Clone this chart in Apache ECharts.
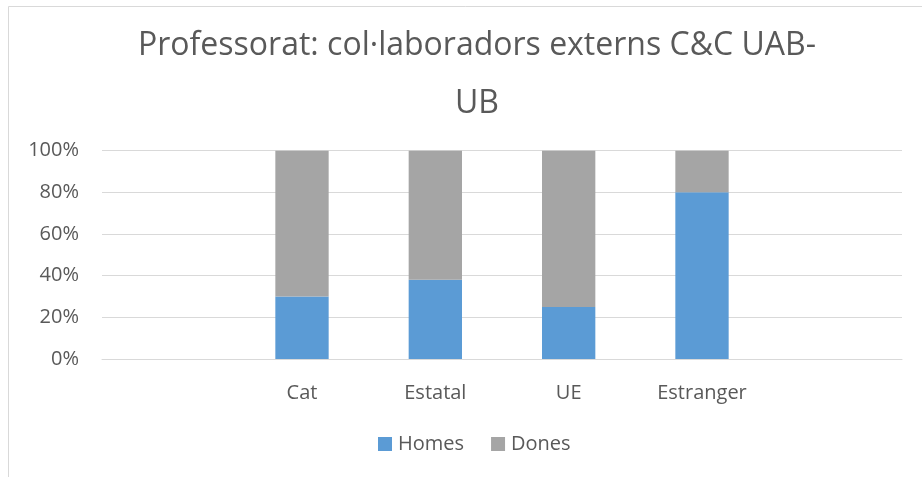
<!DOCTYPE html>
<html>
<head>
<meta charset="utf-8">
<script src="https://cdn.jsdelivr.net/npm/echarts@6/dist/echarts.min.js"></script>
<style>html,body{margin:0;padding:0;background:#fff;}#c{width:922px;height:477px;}</style>
</head>
<body>
<div id="c"></div>
<script>
const categories = ['', 'Cat', 'Estatal', 'UE', 'Estranger', ''];
const homes = [null, 30, 38, 25, 80, null];
const dones = [null, 70, 62, 75, 20, null];
const yTicks = [0, 20, 40, 60, 80, 100];

const FONT = 'Open Sans';
const TXT = '#595959';
const chart = echarts.init(document.getElementById('c'));
chart.setOption({
  animation: false,
  backgroundColor: '#fff',
  textStyle: { fontFamily: FONT },
  graphic: [{
    type: 'rect', silent: true,
    shape: { x: 8.5, y: 6.5, width: 940, height: 500 },
    style: { fill: 'none', stroke: '#D9D9D9', lineWidth: 1 }
  }],
  title: {
    text: 'Professorat: col·laboradors externs C&C UAB-\nUB',
    left: 472, top: 12, textAlign: 'center',
    textStyle: { fontFamily: FONT, fontSize: 32, fontWeight: 'normal', color: TXT, lineHeight: 58 }
  },
  legend: {
    data: ['Homes', 'Dones'],
    left: 373, top: 429,
    itemWidth: 14, itemHeight: 14, itemGap: 27,
    icon: 'rect',
    textStyle: { fontFamily: FONT, fontSize: 20, color: TXT, padding: [0, 0, 0, 1] }
  },
  grid: { left: 102, right: 20, top: 150.7, bottom: 118, containLabel: false },
  xAxis: {
    type: 'category', data: categories,
    axisTick: { show: false },
    axisLine: { lineStyle: { color: '#D9D9D9', width: 1 } },
    axisLabel: { fontFamily: FONT, fontSize: 20, color: TXT, margin: 24, interval: 0 }
  },
  yAxis: {
    type: 'value', min: yTicks[0], max: yTicks[yTicks.length - 1], interval: 20,
    axisLine: { show: false }, axisTick: { show: false },
    splitLine: { lineStyle: { color: '#D9D9D9', width: 1 } },
    axisLabel: { fontFamily: FONT, fontSize: 20, color: TXT, margin: 23, formatter: '{value}%' }
  },
  series: [
    { name: 'Homes', type: 'bar', stack: 't', data: homes, barWidth: '40%', itemStyle: { color: '#5B9BD5' } },
    { name: 'Dones', type: 'bar', stack: 't', data: dones, barWidth: '40%', itemStyle: { color: '#A5A5A5' } }
  ]
});
</script>
</body>
</html>
